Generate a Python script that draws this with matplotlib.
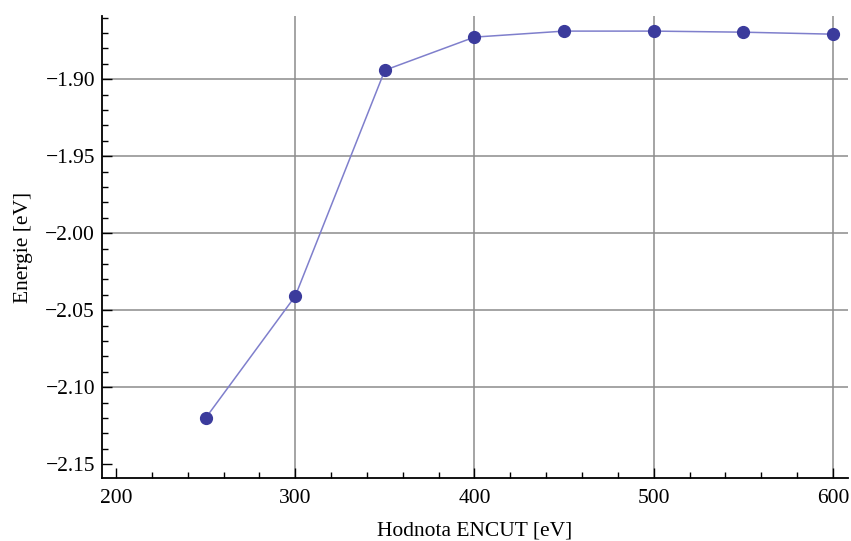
import matplotlib
matplotlib.use("Agg")
import matplotlib.pyplot as plt
from matplotlib.ticker import MultipleLocator

encut = [250, 300, 350, 400, 450, 500, 550, 600]
energy = [-2.1201, -2.0409, -1.8942, -1.8727, -1.8688, -1.8688, -1.8695, -1.8708]
xticks = [200, 300, 400, 500, 600]
yticks = [-1.90, -1.95, -2.00, -2.05, -2.10, -2.15]
xgrid = [300, 400, 500, 600]
ygrid = [-1.90, -1.95, -2.00, -2.05, -2.10]

plt.rcParams['font.family'] = ['Liberation Serif', 'DejaVu Serif']

fig = plt.figure(figsize=(8.51, 5.41), dpi=100)
ax = fig.add_axes([0.1199, 0.1165, 0.8766, 0.8539])

for g in xgrid:
    ax.axvline(g, color='#8c8c8c', lw=1.1, zorder=1)
for g in ygrid:
    ax.axhline(g, color='#8c8c8c', lw=1.1, zorder=1)

ax.plot(encut, energy, color='#7f7fcc', lw=1.1, zorder=2)
ax.plot(encut, energy, 'o', color='#3b3b9c', ms=8.5, zorder=3)

ax.set_xlim(192.2, 608.4)
ax.set_ylim(-2.159, -1.859)
ax.set_xticks(xticks)
ax.set_yticks(yticks)
ax.set_yticklabels([f"\u2212{abs(v):.2f}" for v in yticks])
ax.xaxis.set_minor_locator(MultipleLocator(20))
ax.yaxis.set_minor_locator(MultipleLocator(0.01))
ax.tick_params(which='major', direction='in', length=7, width=1, labelsize=15.5)
ax.tick_params(axis='x', which='major', pad=8)
ax.tick_params(axis='y', which='major', pad=5)
ax.tick_params(which='minor', direction='in', length=4, width=1)
for s in ['top', 'right']:
    ax.spines[s].set_visible(False)
for s in ['left', 'bottom']:
    ax.spines[s].set_linewidth(1.3)

ax.set_xlabel('Hodnota ENCUT [eV]', fontsize=15.5, labelpad=10)
ax.set_ylabel('Energie [eV]', fontsize=15.5, labelpad=9)

fig.savefig('out.png', dpi=100)
